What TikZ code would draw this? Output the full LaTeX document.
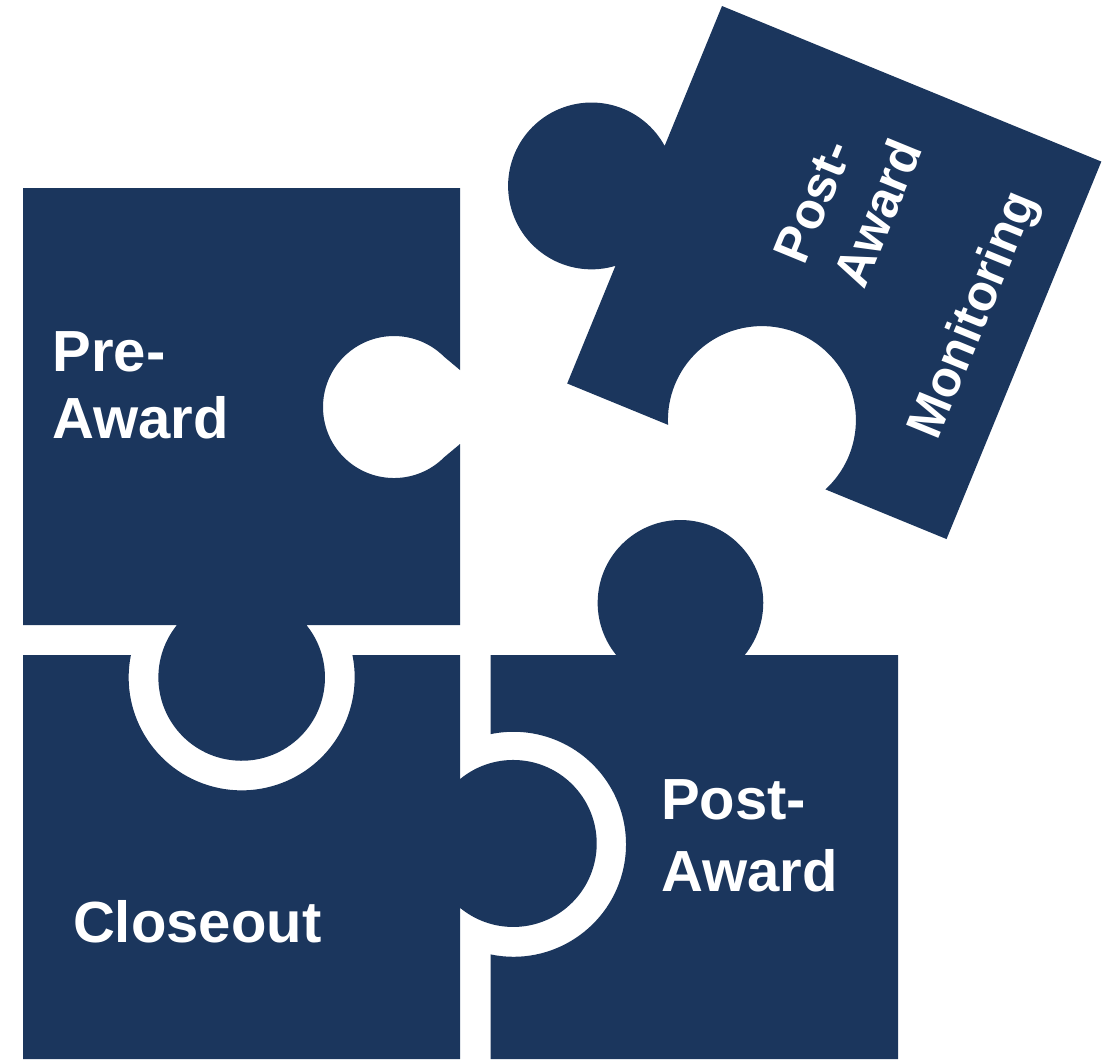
\documentclass[tikz,border=0pt]{standalone}
\usepackage{fontspec}
\setmainfont{Liberation Sans}
\usepackage{tikz}

\definecolor{navy}{RGB}{27,54,93}
\tikzset{
  piece/.style={fill=navy},
  piecetext/.style={text=white, inner sep=0pt, align=left, anchor=base west,
    font=\bfseries\fontsize{16.5}{19}\selectfont},
  turnedtext/.style={piecetext, rotate=67.7,
    font=\bfseries\fontsize{14.4}{18.4}\selectfont}
}

\begin{document}
\begin{tikzpicture}[x=0.01cm, y=0.01cm]
      \useasboundingbox (0,0) rectangle (1107,-1059);
      % pre-award
      \fill[piece] (23,-188) -- (460,-188) -- (460,-370) -- (444.2,-356.8)
        arc[start angle=45, end angle=315, radius=71] -- (460,-444)
        -- (460,-625) -- (306.4,-625) arc[start angle=39, end angle=-219, radius=83.3]
        -- (23,-625) -- cycle;
      % closeout
      \fill[piece] (23,-655) -- (130.9,-655) arc[start angle=168.6, end angle=371.4, radius=113]
        -- (460,-655) -- (460,-779.1) arc[start angle=129.6, end angle=-129.6, radius=83.5]
        -- (460,-1059) -- (23,-1059) -- cycle;
      % post-award
      \fill[piece] (490.7,-655) -- (616.2,-655) arc[start angle=219.1, end angle=-39.1, radius=82.8]
        -- (898,-655) -- (898,-1059) -- (490.7,-1059) -- (490.7,-954.4)
        arc[start angle=258.3, end angle=461.7, radius=112.5] -- cycle;
      % monitoring, turned
      \begin{scope}[shift={(722,-6)}, rotate=-22.3]
        \fill[piece] (0,0) -- (410,0) -- (410,-408) -- (279.1,-408)
          arc[start angle=-25.2, end angle=205.2, radius=94] -- (0,-408)
          -- (0,-280.8) arc[start angle=-51, end angle=-309, radius=83.4] -- cycle;
        \node[turnedtext] (postmon) at (240,-210) {Post-\\Award};
        \node[turnedtext] (monitoring) at (365,-322) {Monitoring};
      \end{scope}
      \node[piecetext] (preaward) at (52,-438.3) {Pre-\\Award};
      \node[piecetext] (closeout) at (72.4,-942.7) {Closeout};
      \node[piecetext] (postaward) at (660.5,-891.7) {Post-\\[1.4pt]Award};
    \end{tikzpicture}
\end{document}
